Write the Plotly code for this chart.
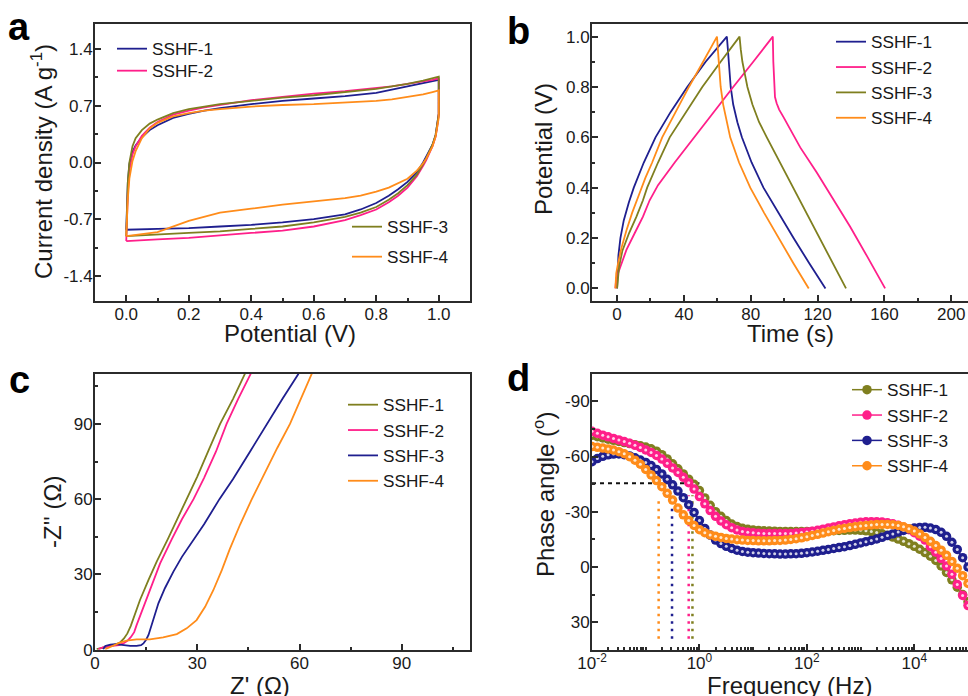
import plotly.graph_objects as go

W, H = 968, 696
FONT = "Liberation Sans, Arial, sans-serif"

BLUE = "#1f1f8f"
PINK = "#ff1f8a"
OLIVE = "#7f7f1f"
ORANGE = "#ff8c1a"

NAMES = ["SSHF-1", "SSHF-2", "SSHF-3", "SSHF-4"]

# ---------------- Panel a : CV ----------------
CV_UP_V = [0, 0.002, 0.005, 0.01, 0.02, 0.03, 0.05, 0.075, 0.1, 0.15, 0.2, 0.25, 0.3,
           0.4, 0.5, 0.6, 0.7, 0.8, 0.85, 0.9, 0.95, 0.98, 1.0]
CV_DN_V = [1.0, 1.0, 0.995, 0.99, 0.98, 0.97, 0.96, 0.95, 0.93, 0.9, 0.87, 0.84, 0.8,
           0.75, 0.7, 0.6, 0.5, 0.4, 0.3, 0.2, 0.1, 0.0]
CV1_UP = [-0.83, -0.55, -0.25, -0.02, 0.13, 0.21, 0.31, 0.40, 0.46, 0.55, 0.60, 0.64, 0.67,
          0.72, 0.76, 0.79, 0.82, 0.86, 0.90, 0.94, 0.98, 1.00, 1.02]
CV1_DN = [1.02, 0.6, 0.45, 0.34, 0.22, 0.14, 0.07, 0.0, -0.12, -0.24, -0.33, -0.41, -0.50,
          -0.58, -0.64, -0.70, -0.74, -0.77, -0.79, -0.81, -0.82, -0.83]
CV2_UP = [-0.97, -0.7, -0.38, -0.1, 0.1, 0.2, 0.33, 0.43, 0.5, 0.59, 0.64, 0.68, 0.71,
          0.77, 0.81, 0.85, 0.88, 0.92, 0.94, 0.97, 1.0, 1.02, 1.04]
CV2_DN = [1.04, 0.6, 0.44, 0.32, 0.2, 0.11, 0.03, -0.04, -0.17, -0.31, -0.41, -0.49, -0.58,
          -0.65, -0.71, -0.79, -0.84, -0.87, -0.90, -0.93, -0.95, -0.97]
CV3_UP = [-0.91, -0.55, -0.25, 0.0, 0.2, 0.3, 0.4, 0.48, 0.53, 0.61, 0.66, 0.69, 0.72,
          0.76, 0.80, 0.83, 0.87, 0.91, 0.94, 0.97, 1.01, 1.04, 1.06]
CV3_DN = [1.06, 0.6, 0.45, 0.34, 0.22, 0.13, 0.05, -0.02, -0.15, -0.28, -0.38, -0.46, -0.55,
          -0.62, -0.67, -0.74, -0.79, -0.82, -0.85, -0.87, -0.89, -0.91]
CV4_UP = [-0.91, -0.7, -0.45, -0.2, 0.02, 0.14, 0.3, 0.42, 0.49, 0.57, 0.61, 0.64, 0.66,
          0.69, 0.71, 0.72, 0.74, 0.76, 0.78, 0.81, 0.84, 0.87, 0.89]
CV4_DN = [0.89, 0.55, 0.42, 0.32, 0.2, 0.12, 0.05, -0.01, -0.1, -0.2, -0.26, -0.31, -0.36,
          -0.41, -0.44, -0.48, -0.52, -0.57, -0.62, -0.72, -0.86, -0.91]
A_YTICKS = [-1.4, -0.7, 0.0, 0.7, 1.4]
A_YTEXT = ["-1.4", "-0.7", "0.0", "0.7", "1.4"]

# ---------------- Panel b : GCD ----------------
GCD1_T = [0, 0.3, 0.8, 2, 4, 7, 10, 16, 23, 32, 42, 53, 65.7, 66.3, 67, 68, 69.5, 72, 74.7,
          80.5, 87.6, 96.5, 105.6, 115, 124.7]
GCD1_V = [0, 0.08, 0.13, 0.2, 0.27, 0.34, 0.4, 0.5, 0.6, 0.7, 0.8, 0.9, 1.0, 0.95, 0.88, 0.8,
          0.73, 0.66, 0.6, 0.5, 0.4, 0.3, 0.2, 0.1, 0.0]
GCD2_T = [-1, -0.5, 0.6, 2, 5.6, 10.6, 15.5, 19.5, 24.5, 34.5, 46, 57.5, 69.5, 81.5, 93.2,
          93.5, 93.9, 94.5, 95.5, 97, 99.6, 104.5, 109.6, 119.5, 129.5, 139.4, 149.4, 160.4]
GCD2_V = [0, 0.04, 0.06, 0.086, 0.153, 0.22, 0.285, 0.35, 0.41, 0.5, 0.6, 0.7, 0.8, 0.9, 1.0,
          0.9, 0.8, 0.76, 0.735, 0.71, 0.68, 0.62, 0.56, 0.46, 0.35, 0.246, 0.13, 0.0]
GCD3_T = [0, 0.5, 1.2, 3.2, 7.2, 11.6, 15.5, 18, 24.5, 31.5, 41, 51, 62, 73.3, 74, 75, 76.5,
          78, 81, 85, 89.6, 97.5, 105.6, 113.5, 121.5, 129.3, 137]
GCD3_V = [0, 0.05, 0.086, 0.15, 0.22, 0.285, 0.35, 0.4, 0.5, 0.6, 0.7, 0.8, 0.9, 1.0, 0.95,
          0.9, 0.85, 0.8, 0.73, 0.66, 0.6, 0.5, 0.4, 0.3, 0.2, 0.1, 0.0]
GCD4_T = [-1, -0.5, 0.6, 2.6, 5.6, 9, 13, 17, 21, 27, 35, 43, 51.5, 59.8, 60.3, 61, 62, 63.5,
          65.5, 67.7, 73, 79.7, 88, 96.6, 105.5, 114.7]
GCD4_V = [0, 0.06, 0.1, 0.16, 0.23, 0.3, 0.37, 0.44, 0.5, 0.6, 0.7, 0.8, 0.9, 1.0, 0.95,
          0.88, 0.8, 0.73, 0.67, 0.6, 0.5, 0.4, 0.3, 0.2, 0.1, 0.0]

# ---------------- Panel c : Nyquist ----------------
NY1_X = [0.5, 2, 3.5, 5.5, 7.3, 8.5, 9.5, 10.5, 11.5, 13.2, 15.7, 18.1, 21.5, 25, 26.9, 30,
         33.5, 36.7, 40.5, 44.0]
NY1_Y = [0.2, 0.8, 1.2, 1.8, 2.8, 4.5, 6.5, 9.5, 13.5, 19.8, 27.8, 35.1, 44.5, 54.5, 60, 69,
         80, 90, 100, 110]
NY2_X = [1.0, 2.5, 4.0, 5.5, 7, 8.3, 9.5, 10.5, 11.5, 12.2, 14.2, 16.6, 19.1, 22.5, 25.5,
         28.9, 32, 35.5, 38.6, 42, 45.7]
NY2_Y = [0.2, 1.0, 1.3, 1.5, 1.8, 2.5, 3.5, 5.0, 7.0, 9.8, 17.1, 25.8, 34.4, 44, 52, 60,
         68.5, 79, 90, 100, 110]
NY3_X = [2.4, 3.0, 4.5, 6, 7.3, 9, 10.3, 12.2, 13.5, 14.2, 15.0, 15.7, 17.1, 18.6, 20.5, 23,
         25.5, 28.5, 32, 36.5, 40.5, 45.5, 50.4, 55, 59.7]
NY3_Y = [0.2, 1.5, 2.0, 2.2, 2.0, 1.7, 1.5, 1.5, 1.8, 2.5, 4.0, 5.9, 11.8, 18.5, 24.5, 31.1,
         37, 43, 50, 60, 68, 79, 90, 100, 110]
NY4_X = [3.0, 4.0, 5.4, 7.3, 9.3, 12.2, 16.1, 20.0, 24.0, 26.9, 29.8, 32.3, 34.7, 37.2, 39.5,
         42.6, 46.0, 50, 53.5, 57.2, 60.5, 63.6]
NY4_Y = [0.2, 0.8, 1.5, 2.8, 3.6, 4.1, 4.1, 4.9, 6.2, 8.5, 11.8, 17.1, 23.7, 31.7, 40, 50,
         60, 71, 80.5, 90, 100, 110]

# ---------------- Panel d : Bode phase ----------------
FREQ = [0.01, 0.01259, 0.01585, 0.01995, 0.02512, 0.03162, 0.03981, 0.05012, 0.0631, 0.07943,
        0.1, 0.1259, 0.1585, 0.1995, 0.2512, 0.3162, 0.3981, 0.5012, 0.631, 0.7943,
        1, 1.259, 1.585, 1.995, 2.512, 3.162, 3.981, 5.012, 6.31, 7.943,
        10, 12.59, 15.85, 19.95, 25.12, 31.62, 39.81, 50.12, 63.1, 79.43,
        100, 125.9, 158.5, 199.5, 251.2, 316.2, 398.1, 501.2, 631, 794.3,
        1000, 1259, 1585, 1995, 2512, 3162, 3981, 5012, 6310, 7943,
        10000, 12590, 15850, 19950, 25120, 31620, 39810, 50120, 63100, 79430, 100000]
PH1 = [-71.5, -70.8, -70.1, -69.4, -68.8, -68.2, -67.6, -67.0, -66.4, -65.8,
       -65.1, -64.2, -62.9, -61.0, -58.7, -56.0, -53.3, -50.5, -47.7, -44.9,
       -41.5, -37.5, -33.5, -30.0, -27.5, -25.2, -23.3, -21.9, -21.0, -20.4,
       -20.0, -19.8, -19.6, -19.5, -19.4, -19.3, -19.3, -19.2, -19.2, -19.2,
       -19.3, -19.3, -19.4, -19.5, -19.6, -19.7, -19.8, -19.9, -20.0, -20.0,
       -19.9, -19.6, -19.2, -18.7, -18.0, -17.2, -16.2, -15.1, -13.9, -12.6,
       -11.2, -9.6, -7.8, -5.8, -3.5, -0.5, 3.0, 7.0, 11.0, 15.0, 19.0]
PH2 = [-73.7, -72.6, -71.6, -70.7, -69.8, -69.0, -68.1, -67.2, -66.1, -64.9,
       -63.6, -62.2, -60.6, -58.6, -56.3, -53.8, -51.3, -48.7, -45.8, -42.3,
       -38.2, -34.3, -30.6, -27.5, -25.0, -22.9, -21.3, -20.1, -19.3, -18.8,
       -18.5, -18.3, -18.2, -18.1, -18.1, -18.1, -18.1, -18.2, -18.4, -18.7,
       -19.0, -19.4, -19.9, -20.5, -21.1, -21.7, -22.3, -22.9, -23.4, -23.8,
       -24.2, -24.5, -24.6, -24.6, -24.4, -24.0, -23.4, -22.6, -21.5, -20.2,
       -18.6, -16.7, -14.6, -11.0, -8.0, -4.5, -0.5, 4.0, 9.5, 15.5, 21.0]
PH3 = [-57.2, -58.9, -60.1, -60.9, -61.3, -61.4, -61.0, -60.3, -59.3, -58.1,
       -56.8, -55.1, -53.0, -50.5, -47.6, -44.6, -41.2, -37.6, -33.8, -29.6,
       -25.2, -20.9, -17.3, -14.6, -12.7, -11.2, -10.0, -9.1, -8.4, -8.0,
       -7.7, -7.5, -7.3, -7.2, -7.1, -7.0, -7.0, -7.1, -7.2, -7.4,
       -7.7, -8.1, -8.5, -9.0, -9.5, -10.0, -10.5, -11.0, -11.6, -12.3,
       -13.0, -13.7, -14.4, -15.2, -16.1, -17.0, -17.9, -18.9, -19.8, -20.6,
       -21.1, -21.4, -21.5, -21.1, -20.3, -18.8, -16.6, -13.4, -9.5, -5.0, 0.0]
PH4 = [-65.4, -65.0, -64.6, -64.1, -63.5, -62.6, -61.5, -59.9, -58.0, -55.8,
       -53.0, -50.0, -46.9, -43.6, -40.0, -36.3, -32.0, -28.3, -25.2, -22.5,
       -20.2, -18.6, -17.4, -16.6, -16.0, -15.5, -15.1, -14.8, -14.6, -14.4,
       -14.3, -14.2, -14.2, -14.2, -14.3, -14.4, -14.6, -14.9, -15.3, -15.8,
       -16.4, -17.1, -17.7, -18.4, -19.1, -19.8, -20.4, -20.9, -21.4, -21.8,
       -22.2, -22.5, -22.8, -23.0, -23.1, -23.1, -22.9, -22.5, -21.8, -20.8,
       -19.5, -17.9, -16.0, -13.9, -11.6, -9.1, -6.3, -3.0, 0.7, 4.8, 9.0]
FC = [0.741, 0.631, 0.309, 0.174]          # characteristic frequencies (dotted lines)
FC_TOP = [-39, -39, -38, -38]
FC_BOTTOM = 39
PH45_X = [0.01, 1.0]
PH45_Y = [-45.5, -45.5]
D_YTICKS = [-90, -60, -30, 0, 30]
D_YTEXT = ["-90", "-60", "-30", "0", "30"]
D_XTICKS = [0.01, 1, 100, 10000]
D_XTEXT = ["10<sup>-2</sup>", "10<sup>0</sup>", "10<sup>2</sup>", "10<sup>4</sup>"]
D_XMINOR = [m * d for d in [0.01, 0.1, 1, 10, 100, 1000, 10000] for m in range(2, 10)] + \
           [0.1, 10, 1000, 100000]


def px_x(p):
    return p / W


def px_y(p):
    return 1 - p / H


def axis(**kw):
    base = dict(showline=True, linecolor="#2b2b2b", linewidth=1.8, mirror=True,
                ticks="inside", ticklen=6, tickwidth=1.5, tickcolor="#2b2b2b",
                showgrid=False, zeroline=False, automargin=False, ticklabelstandoff=-3,
                tickfont=dict(size=17, color="#1a1a1a", family=FONT))
    base.update(kw)
    return base


fig = go.Figure()
LW = 1.8

# Panel a (each legend entry is its own legend box, as in the reference)
cv_cols = [BLUE, PINK, OLIVE, ORANGE]
cv_up = [CV1_UP, CV2_UP, CV3_UP, CV4_UP]
cv_dn = [CV1_DN, CV2_DN, CV3_DN, CV4_DN]
a_legends = ["legend", "legend6", "legend2", "legend7"]
for i in range(4):
    fig.add_trace(go.Scatter(
        x=CV_UP_V + CV_DN_V, y=cv_up[i] + cv_dn[i], mode="lines", name=NAMES[i],
        line=dict(color=cv_cols[i], width=LW), xaxis="x", yaxis="y",
        legend=a_legends[i]))

# Panel b
gcd = [(GCD1_T, GCD1_V), (GCD2_T, GCD2_V), (GCD3_T, GCD3_V), (GCD4_T, GCD4_V)]
for i in range(4):
    fig.add_trace(go.Scatter(
        x=gcd[i][0], y=gcd[i][1], mode="lines", name=NAMES[i],
        line=dict(color=cv_cols[i], width=LW), xaxis="x2", yaxis="y2",
        legend="legend3"))

# Panel c
ny_cols = [OLIVE, PINK, BLUE, ORANGE]
ny = [(NY1_X, NY1_Y), (NY2_X, NY2_Y), (NY3_X, NY3_Y), (NY4_X, NY4_Y)]
for i in range(4):
    fig.add_trace(go.Scatter(
        x=ny[i][0], y=ny[i][1], mode="lines", name=NAMES[i],
        line=dict(color=ny_cols[i], width=LW), xaxis="x3", yaxis="y3",
        legend="legend4"))

# Panel d
fig.add_trace(go.Scatter(x=PH45_X, y=PH45_Y, mode="lines", showlegend=False,
                         line=dict(color="#111111", width=2, dash="4px,4px"),
                         xaxis="x4", yaxis="y4"))
for i in range(4):
    fig.add_trace(go.Scatter(x=[FC[i], FC[i]], y=[FC_BOTTOM, FC_TOP[i]], mode="lines",
                             showlegend=False,
                             line=dict(color=ny_cols[i], width=2.5, dash="2.5px,5px"),
                             xaxis="x4", yaxis="y4"))
ph = [PH1, PH2, PH3, PH4]
for i in range(4):
    fig.add_trace(go.Scatter(
        x=FREQ, y=ph[i], mode="lines+markers", name=NAMES[i],
        line=dict(color=ny_cols[i], width=1.5),
        marker=dict(symbol="circle", size=9.5, color=ny_cols[i], line=dict(width=0)),
        xaxis="x4", yaxis="y4", legend="legend5"))
    fig.add_trace(go.Scatter(
        x=FREQ, y=ph[i], mode="markers", showlegend=False, hoverinfo="skip",
        marker=dict(symbol="circle", size=3, color="rgba(255,255,255,0.8)", line=dict(width=0)),
        xaxis="x4", yaxis="y4"))

# Domains (pixel boxes)
AX_L, AX_R = 95, 470
BX_L, BX_R = 592, 968
TOP_T, TOP_B = 24, 301
BOT_T, BOT_B = 373.7, 649.7

MINOR = dict(ticks="inside", ticklen=3, tickcolor="#2b2b2b")

fig.update_layout(
    width=W, height=H, margin=dict(l=0, r=0, t=0, b=0, autoexpand=False),
    paper_bgcolor="white", plot_bgcolor="white",
    font=dict(family=FONT, color="#1a1a1a"),
    xaxis=axis(domain=[px_x(AX_L), px_x(AX_R)], range=[-0.1, 1.1], dtick=0.2, tick0=0,
               tickformat=".1f", minor=dict(MINOR, dtick=0.1, tick0=0), anchor="y"),
    yaxis=axis(domain=[px_y(TOP_B), px_y(TOP_T)], range=[-1.71, 1.71], tickmode="array",
               tickvals=A_YTICKS, ticktext=A_YTEXT,
               minor=dict(MINOR, tickmode="array", tickvals=[-1.05, -0.35, 0.35, 1.05]),
               anchor="x"),
    xaxis2=axis(domain=[px_x(BX_L), px_x(BX_R)], range=[-15, 210], dtick=40, tick0=0,
                minor=dict(MINOR, dtick=20, tick0=0), anchor="y2"),
    yaxis2=axis(domain=[px_y(TOP_B), px_y(TOP_T)], range=[-0.05, 1.05], dtick=0.2, tick0=0,
                tickformat=".1f", minor=dict(MINOR, dtick=0.1, tick0=0), anchor="x2"),
    xaxis3=axis(domain=[px_x(AX_L), px_x(AX_R)], range=[0, 110], dtick=30, tick0=0,
                minor=dict(MINOR, dtick=15, tick0=0), anchor="y3"),
    yaxis3=axis(domain=[px_y(BOT_B), px_y(BOT_T)], range=[0, 110], dtick=30, tick0=0,
                minor=dict(MINOR, dtick=15, tick0=0), anchor="x3"),
    xaxis4=axis(domain=[px_x(BX_L), px_x(BX_R)], type="log", range=[-2, 5],
                tickmode="array", tickvals=D_XTICKS, ticktext=D_XTEXT,
                minor=dict(MINOR, tickmode="array", tickvals=D_XMINOR), anchor="y4"),
    yaxis4=axis(domain=[px_y(BOT_B), px_y(BOT_T)], range=[45, -105], tickmode="array",
                tickvals=D_YTICKS, ticktext=D_YTEXT,
                minor=dict(MINOR, tickmode="array", tickvals=[-75, -45, -15, 15]),
                anchor="x4"),
)

leg_common = dict(bgcolor="rgba(0,0,0,0)", borderwidth=0, xanchor="left", yanchor="top",
                  font=dict(size=17.2, family=FONT, color="#1a1a1a"), itemwidth=30,
                  traceorder="normal", tracegroupgap=0)
fig.update_layout(
    legend=dict(leg_common, x=px_x(112), y=px_y(31)),
    legend6=dict(leg_common, x=px_x(112), y=px_y(53)),
    legend2=dict(leg_common, x=px_x(347), y=px_y(209)),
    legend7=dict(leg_common, x=px_x(347), y=px_y(239)),
    legend3=dict(leg_common, x=px_x(831), y=px_y(24)),
    legend4=dict(leg_common, x=px_x(343), y=px_y(387)),
    legend5=dict(leg_common, x=px_x(847), y=px_y(372)),
)

TFONT = dict(size=24, family=FONT, color="#1a1a1a")
titles = [
    ("Potential (V)", 290, 334, 0),
    ("Current density (A g<sup>-1</sup>)", 42, 162, -90),
    ("Time (s)", 790, 334, 0),
    ("Potential (V)", 544, 149, -90),
    ("Z' (\u03a9)", 260, 685, 0),
    ("-Z'' (\u03a9)", 52, 512, -90),
    ("Frequency (Hz)", 789, 685, 0),
    ("Phase angle (<sup>o</sup>)", 544, 495, -90),
]
for t, x, y, ang in titles:
    fig.add_annotation(text=t, x=px_x(x), y=px_y(y), xref="paper", yref="paper",
                       showarrow=False, xanchor="center", yanchor="middle",
                       textangle=ang, font=TFONT)

letters = [("a", 6, 27), ("b", 505, 31), ("c", 7, 380), ("d", 505, 378)]
for t, x, y in letters:
    fig.add_annotation(text="<b>%s</b>" % t, x=px_x(x), y=px_y(y), xref="paper", yref="paper",
                       showarrow=False, xanchor="left", yanchor="middle",
                       font=dict(size=38, family=FONT, color="#000000"))

fig.write_html("out.html", config={"displayModeBar": False},
               post_script="document.body.style.margin='0px';"
                           "document.body.style.overflow='hidden';")
